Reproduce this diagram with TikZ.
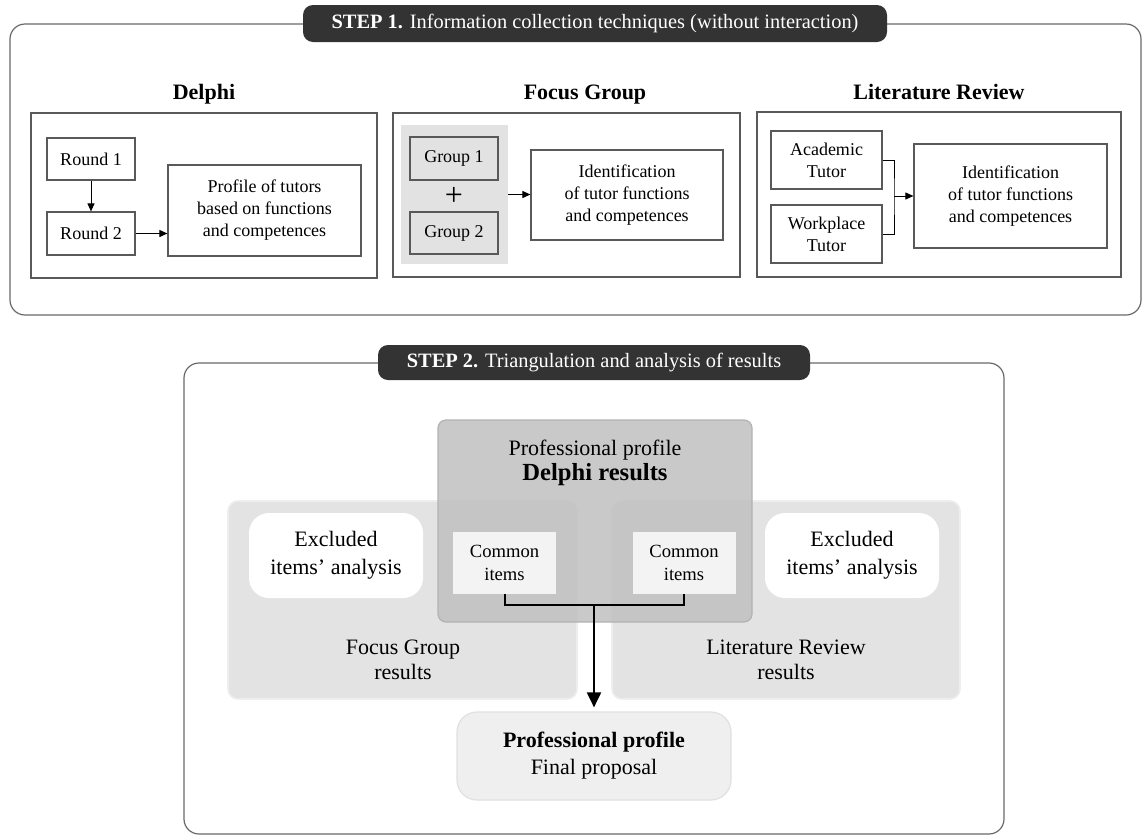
\documentclass[tikz,border=0pt]{standalone}
\usepackage{fontspec}
\setmainfont{Liberation Serif}
\usetikzlibrary{arrows.meta}
\definecolor{pillgray}{RGB}{51,51,51}
\definecolor{framegray}{RGB}{105,105,105}
\definecolor{panelgray}{RGB}{226,226,226}
\definecolor{resultgray}{RGB}{227,227,227}
\definecolor{resultedge}{RGB}{238,238,238}
\definecolor{delphigray}{RGB}{192,192,192}
\definecolor{delphiedge}{RGB}{178,178,178}
\definecolor{commongray}{RGB}{243,243,243}
\definecolor{finalgray}{RGB}{239,239,239}
\definecolor{finaledge}{RGB}{224,224,224}

\tikzset{
  stepbox/.style={draw=black!65, line width=0.6pt, fill=white, align=center,
    inner sep=0pt, font=\fontsize{9}{11}\selectfont},
  heading/.style={anchor=base, inner sep=0pt, font=\fontsize{11}{13}\selectfont\bfseries},
  pill/.style={fill=pillgray, rounded corners=5pt, text=white, inner sep=0pt,
    font=\fontsize{10.2}{12}\selectfont},
  smallarrow/.style={-{Triangle[width=3.5pt,length=4pt]}, line width=0.5pt},
  resultbox/.style={fill=resultgray, draw=resultedge, line width=0.8pt,
    rounded corners=5pt, inner sep=0pt},
  excluded/.style={fill=white, rounded corners=10pt, align=center, inner sep=0pt,
    minimum width=87pt, minimum height=42.5pt, font=\fontsize{11}{13.8}\selectfont},
  common/.style={fill=commongray, align=center, inner sep=0pt,
    minimum width=51.5pt, minimum height=31pt, font=\fontsize{9.3}{11.3}\selectfont},
  restext/.style={align=center, font=\fontsize{11}{12.5}\selectfont},
}

\begin{document}
\begin{tikzpicture}[x=0.5pt,y=-0.5pt]
\useasboundingbox (0,0) rectangle (1142,836);

% step 1
\draw[framegray, line width=0.6pt, rounded corners=7.5pt] (10,24) rectangle (1141,315);
\node[pill, minimum width=292pt, minimum height=18.5pt] (stepone) at (595,23.5)
  {\textbf{STEP 1.} Information collection techniques (without interaction)};

% delphi
\node[heading] (delphihead) at (204,99) {Delphi};
\node[stepbox, minimum width=173pt, minimum height=82.5pt] (delphibox) at (204,195.5) {};
\node[stepbox, minimum width=44pt, minimum height=21pt] (round1) at (91,159) {Round 1};
\node[stepbox, minimum width=44pt, minimum height=21.5pt] (round2) at (91,233.5) {Round 2};
\node[stepbox, minimum width=96.5pt, minimum height=45.5pt] (profile) at (264.5,210.5)
  {Profile of tutors\\based on functions\\and competences};
\draw[smallarrow] (round1) -- (round2);
\draw[smallarrow] (round2.east) -- (round2.east -| profile.west);

% focus group
\node[heading] (fghead) at (585,99) {Focus Group};
\node[stepbox, minimum width=173.5pt, minimum height=82pt] (fgbox) at (566.5,195) {};
\node[fill=panelgray, inner sep=0pt, minimum width=53.5pt, minimum height=69.5pt] (groups) at (454.5,194.5) {};
\node[stepbox, fill=panelgray, minimum width=44pt, minimum height=21.5pt] (group1) at (454,158.5) {Group 1};
\node[stepbox, fill=panelgray, minimum width=44pt, minimum height=21pt] (group2) at (454,233) {Group 2};
\node[font=\fontsize{16}{16}\selectfont, inner sep=0pt] (plus) at (454,196) {+};
\node[stepbox, minimum width=96pt, minimum height=45pt] (fgident) at (627,195)
  {Identification\\of tutor functions\\and competences};
\draw[smallarrow] (groups.east) -- (groups.east -| fgident.west);

% literature review
\node[heading] (lrhead) at (939,99) {Literature Review};
\node[stepbox, minimum width=182pt, minimum height=82.5pt] (lrbox) at (939,194.5) {};
\node[stepbox, minimum width=55.5pt, minimum height=29pt] (academic) at (826.5,160) {Academic\\Tutor};
\node[stepbox, minimum width=55.5pt, minimum height=29pt] (workplace) at (826.5,234) {Workplace\\Tutor};
\node[stepbox, minimum width=96.5pt, minimum height=52pt] (lrident) at (1010.5,196)
  {Identification\\of tutor functions\\and competences};
\coordinate (lrjoin) at (894,196);
\draw[line width=0.5pt] (academic.east) -| (lrjoin) |- (workplace.east);
\draw[smallarrow] (lrjoin) -- (lrident.west);

% step 2
\draw[framegray, line width=0.6pt, rounded corners=7.5pt] (184,363) rectangle (1004,834);
\node[pill, minimum width=216pt, minimum height=17.5pt] (steptwo) at (594,362.5)
  {\textbf{STEP 2.} Triangulation and analysis of results};

\node[resultbox, minimum width=174.5pt, minimum height=99pt] (fgres) at (402.5,600) {};
\node[resultbox, minimum width=174pt, minimum height=99pt] (lrres) at (786,600) {};
\node[fill=delphigray, fill opacity=0.85, draw=delphiedge, line width=0.6pt,
  rounded corners=4pt, inner sep=0pt, minimum width=157pt, minimum height=101pt] (delphires) at (595,521) {};
\node[align=center, font=\fontsize{11}{12.5}\selectfont] (delphitxt) at (595,463)
  {Professional profile\\{\fontsize{12.3}{12.5}\selectfont\bfseries Delphi results}};
\node[restext] (fgtxt) at (403,660) {Focus Group\\results};
\node[restext] (lrtxt) at (786,660) {Literature Review\\results};

\node[excluded] (exclleft) at (336,555.5) {Excluded\\items’ analysis};
\node[excluded] (exclright) at (852,555.5) {Excluded\\items’ analysis};
\node[common] (commonleft) at (504.5,563) {Common\\items};
\node[common] (commonright) at (684,563) {Common\\items};

\node[fill=finalgray, draw=finaledge, line width=0.6pt, rounded corners=10pt, align=center,
  inner sep=0pt, minimum width=137pt, minimum height=44pt,
  font=\fontsize{11}{13.5}\selectfont] (final) at (594,756)
  {\textbf{Professional profile}\\Final proposal};

\coordinate (merge) at (594,605);
\draw[line width=1pt] (commonleft.south) |- (merge) -| (commonright.south);
\draw[line width=1pt, -{Triangle[width=7pt,length=7.5pt]}, shorten >=2pt] (merge) -- (final.north);
\end{tikzpicture}
\end{document}
